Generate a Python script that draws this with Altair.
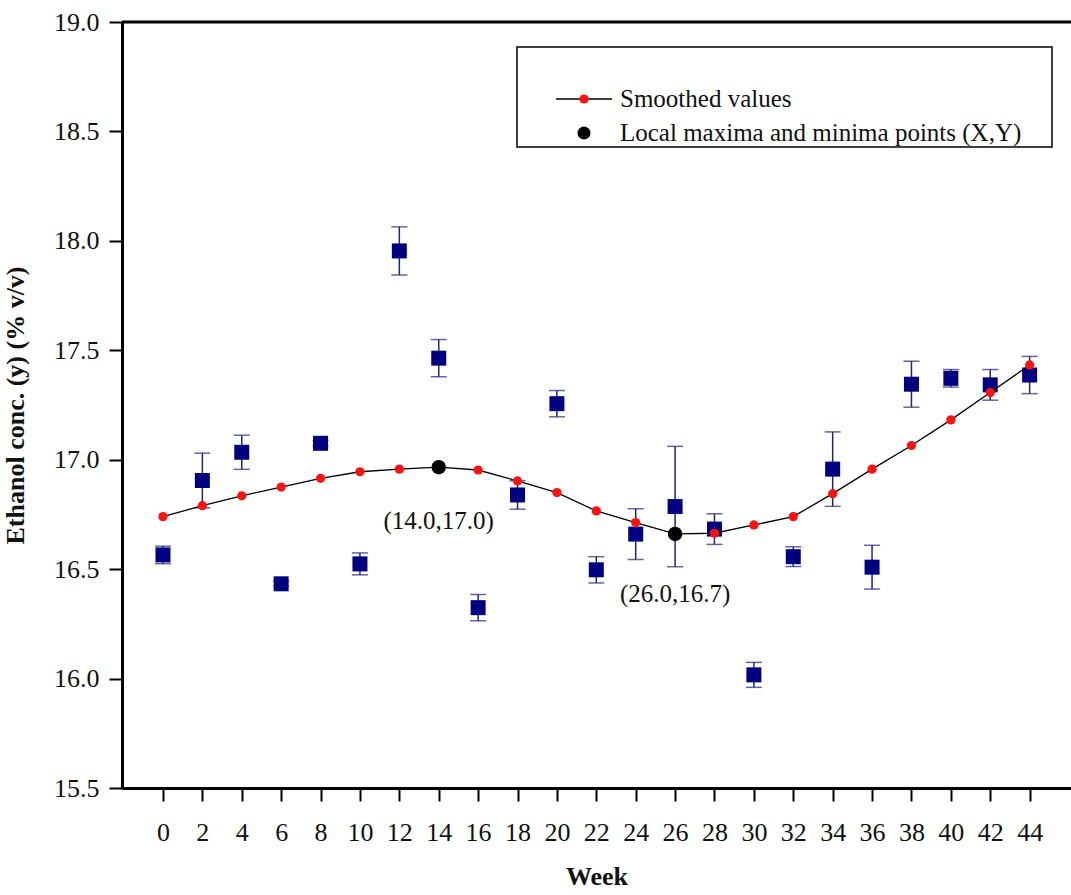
import altair as alt
import pandas as pd

# ---- data ----
weeks = list(range(0, 46, 2))
measured = [16.565, 16.905, 17.034, 16.433, 17.075, 16.524, 17.954, 17.464,
            16.324, 16.839, 17.256, 16.497, 16.660, 16.786, 16.683, 16.017,
            16.557, 16.957, 16.509, 17.345, 17.372, 17.342, 17.387]
errors = [0.040, 0.125, 0.078, 0.012, 0.012, 0.050, 0.110, 0.085,
          0.060, 0.065, 0.060, 0.060, 0.116, 0.275, 0.070, 0.057,
          0.045, 0.170, 0.100, 0.105, 0.040, 0.070, 0.085]
smoothed = [16.740, 16.790, 16.835, 16.875, 16.915, 16.945, 16.957, 16.966,
            16.953, 16.903, 16.850, 16.766, 16.713, 16.661, 16.664, 16.702,
            16.740, 16.845, 16.957, 17.065, 17.182, 17.307, 17.433]
extreme_weeks = [14, 26]
extreme_labels = ["(14.0,17.0)", "(26.0,16.7)"]
legend_labels = ["Smoothed values", "Local maxima and minima points (X,Y)"]
x_ticks = list(range(0, 46, 2))
y_ticks = [15.5, 16.0, 16.5, 17.0, 17.5, 18.0, 18.5, 19.0]

SERIF = "Liberation Serif"
W, H = 949, 766
NAVY = "#000080"
ERR = "#23237a"
RED = "#ff1111"

df = pd.DataFrame({"week": weeks, "measured": measured, "err": errors, "smoothed": smoothed})
df["lo"] = df["measured"] - df["err"]
df["hi"] = df["measured"] + df["err"]
ext = df[df["week"].isin(extreme_weeks)].copy()
ext["label"] = extreme_labels

xs = alt.Scale(domain=[-2.08, 46.1], nice=False, zero=False)
ys = alt.Scale(domain=[15.5, 19.0], nice=False, zero=False)
x_axis = alt.Axis(values=x_ticks, format="d", title="Week", labelPadding=18, titlePadding=18)
y_axis = alt.Axis(values=y_ticks, format=".1f", title="Ethanol conc. (y) (% v/v)",
                  labelPadding=10, titlePadding=25)


def X():
    return alt.X("week:Q", scale=xs, axis=x_axis)


def Y(field):
    return alt.Y(f"{field}:Q", scale=ys, axis=y_axis)


err_rule = alt.Chart(df).mark_rule(color=ERR, strokeWidth=1.5).encode(
    x=X(), y=Y("lo"), y2="hi:Q")
cap_lo = alt.Chart(df).mark_tick(color=ERR, orient="horizontal", size=16, thickness=1.5).encode(
    x=X(), y=Y("lo"))
cap_hi = alt.Chart(df).mark_tick(color=ERR, orient="horizontal", size=16, thickness=1.5).encode(
    x=X(), y=Y("hi"))
squares = alt.Chart(df).mark_square(size=225, color=NAVY, opacity=1).encode(
    x=X(), y=Y("measured"))
line = alt.Chart(df).mark_line(color="black", strokeWidth=1.3).encode(
    x=X(), y=Y("smoothed"))
red_pts = alt.Chart(df).mark_circle(size=85, color=RED, opacity=1).encode(
    x=X(), y=Y("smoothed"))
black_pts = alt.Chart(ext).mark_circle(size=210, color="black", opacity=1).encode(
    x=X(), y=Y("smoothed"))
lab1 = alt.Chart(ext[ext["week"] == extreme_weeks[0]]).mark_text(
    font=SERIF, fontSize=25, dy=54, color="#111").encode(x=X(), y=Y("smoothed"), text="label:N")
lab2 = alt.Chart(ext[ext["week"] == extreme_weeks[1]]).mark_text(
    font=SERIF, fontSize=25, dy=60, color="#111").encode(x=X(), y=Y("smoothed"), text="label:N")

top_border = alt.Chart(pd.DataFrame({"a": [0]})).mark_rule(color="black", strokeWidth=3).encode(
    x=alt.value(0), x2=alt.value(W), y=alt.value(0))

one = pd.DataFrame({"a": [0]})
leg_box = alt.Chart(one).mark_rect(fill="white", stroke="black", strokeWidth=1.5).encode(
    x=alt.value(395), x2=alt.value(930), y=alt.value(25), y2=alt.value(125))
leg_line = alt.Chart(one).mark_rule(color="black", strokeWidth=1.3).encode(
    x=alt.value(434), x2=alt.value(490), y=alt.value(77))
leg_red = alt.Chart(one).mark_circle(size=85, color=RED, opacity=1).encode(
    x=alt.value(462), y=alt.value(77))
leg_black = alt.Chart(one).mark_circle(size=170, color="black", opacity=1).encode(
    x=alt.value(462), y=alt.value(111))
leg_t1 = alt.Chart(one).mark_text(text=legend_labels[0], font=SERIF, fontSize=25, align="left",
                                  baseline="middle", color="#111").encode(x=alt.value(498), y=alt.value(77))
leg_t2 = alt.Chart(one).mark_text(text=legend_labels[1], font=SERIF, fontSize=25, align="left",
                                  baseline="middle", color="#111").encode(x=alt.value(498), y=alt.value(111))

chart = alt.layer(
    err_rule, cap_lo, cap_hi, squares, line, red_pts, black_pts, lab1, lab2,
    top_border, leg_box, leg_line, leg_red, leg_black, leg_t1, leg_t2
).properties(
    width=W, height=H, autosize="none",
    padding={"left": 122, "top": 22, "right": 0, "bottom": 107},
    background="white",
).configure_view(stroke=None).configure_axis(
    grid=False,
    domainColor="black", domainWidth=3,
    tickColor="black", tickWidth=2, tickSize=13,
    labelFont=SERIF, labelFontSize=26, labelColor="#111",
    titleFont=SERIF, titleFontSize=26, titleFontWeight="bold", titleColor="#111",
)

chart.save("out.html", embed_options={"renderer": "svg", "actions": False})
